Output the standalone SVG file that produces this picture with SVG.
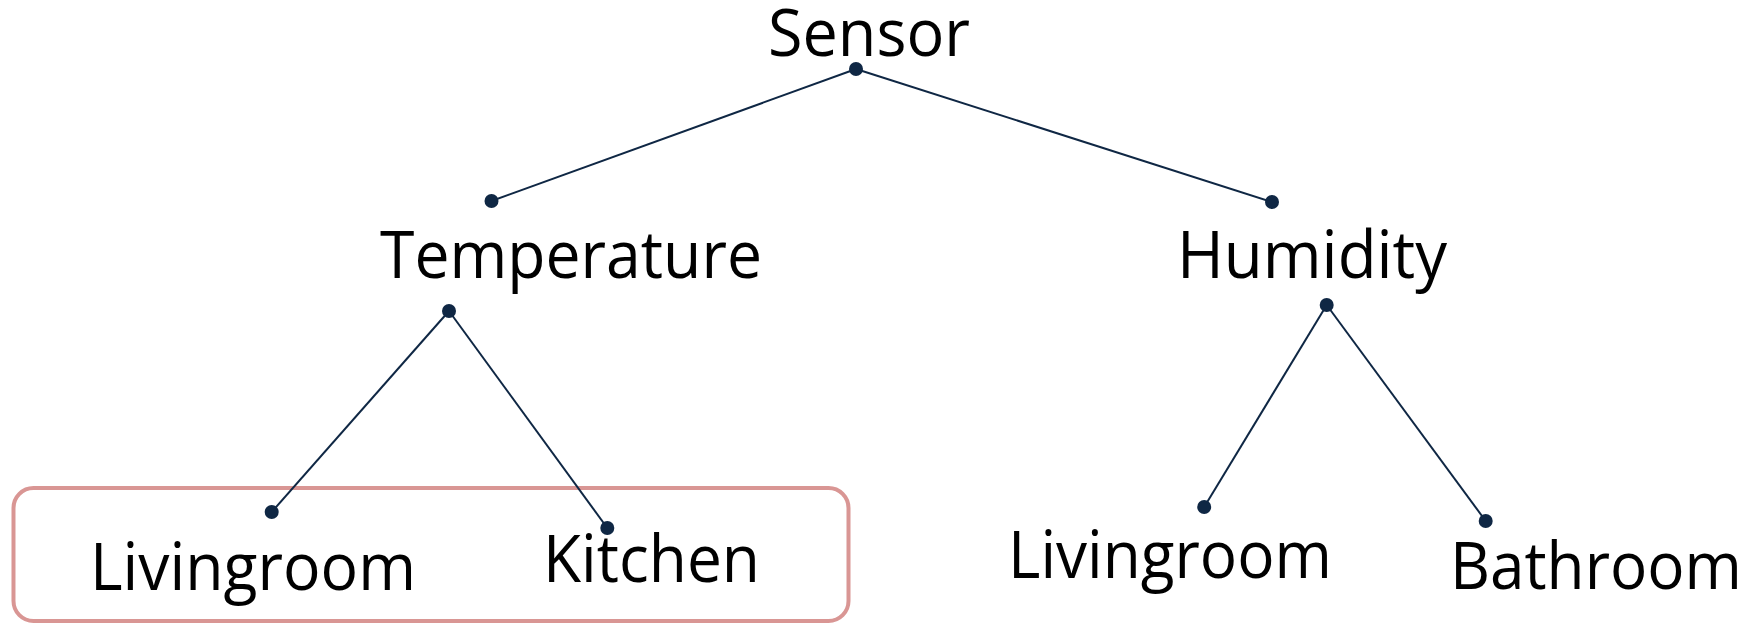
<svg xmlns="http://www.w3.org/2000/svg" width="1760" height="625" viewBox="0 0 1760 625">
  <style>
    .label { font-family: "Open Sans", "Noto Sans", "Liberation Sans", sans-serif; font-size: 66px; fill: #000000; }
    .dot { fill: #0f2744; }
    .edge { stroke: #0f2744; stroke-width: 2; fill: none; }
    .group-box { fill: none; stroke: #d99694; stroke-width: 4; }
  </style>
  <rect width="1760" height="625" fill="#ffffff"/>

  <!-- highlight around the temperature leaves -->
  <rect id="temperature-rooms" class="group-box" x="13.5" y="488" width="835" height="133" rx="20" ry="20"/>

  <!-- tree edges -->
  <g id="connectors">
    <line class="edge" x1="856" y1="69" x2="491.5" y2="201"/>
    <line class="edge" x1="856" y1="69" x2="1272" y2="202"/>
    <line class="edge" x1="449" y1="311" x2="271.7" y2="512"/>
    <line class="edge" x1="449" y1="311" x2="607.3" y2="528"/>
    <line class="edge" x1="1326.7" y1="305" x2="1204.2" y2="507"/>
    <line class="edge" x1="1326.7" y1="305" x2="1485.7" y2="521"/>
  </g>

  <g id="sensor">
    <text class="label" x="768" y="55.5" textLength="202" lengthAdjust="spacingAndGlyphs">Sensor</text>
    <circle class="dot" cx="856" cy="69" r="7"/>
  </g>

  <g id="temperature">
    <circle class="dot" cx="491.5" cy="201" r="7"/>
    <text class="label" x="380" y="278" textLength="382" lengthAdjust="spacingAndGlyphs">Temperature</text>
    <circle class="dot" cx="449" cy="311" r="7"/>
  </g>

  <g id="humidity">
    <circle class="dot" cx="1272" cy="202" r="7"/>
    <text class="label" x="1177" y="278" textLength="270" lengthAdjust="spacingAndGlyphs">Humidity</text>
    <circle class="dot" cx="1326.7" cy="305" r="7"/>
  </g>

  <g id="temperature-livingroom">
    <circle class="dot" cx="271.7" cy="512" r="7"/>
    <text class="label" x="90" y="590" textLength="326" lengthAdjust="spacingAndGlyphs">Livingroom</text>
  </g>

  <g id="temperature-kitchen">
    <circle class="dot" cx="607.3" cy="528" r="7"/>
    <text class="label" x="543" y="582" textLength="217" lengthAdjust="spacingAndGlyphs">Kitchen</text>
  </g>

  <g id="humidity-livingroom">
    <circle class="dot" cx="1204.2" cy="507" r="7"/>
    <text class="label" x="1008" y="578" textLength="324" lengthAdjust="spacingAndGlyphs">Livingroom</text>
  </g>

  <g id="humidity-bathroom">
    <circle class="dot" cx="1485.7" cy="521" r="7"/>
    <text class="label" x="1450" y="589" textLength="292" lengthAdjust="spacingAndGlyphs">Bathroom</text>
  </g>
</svg>
